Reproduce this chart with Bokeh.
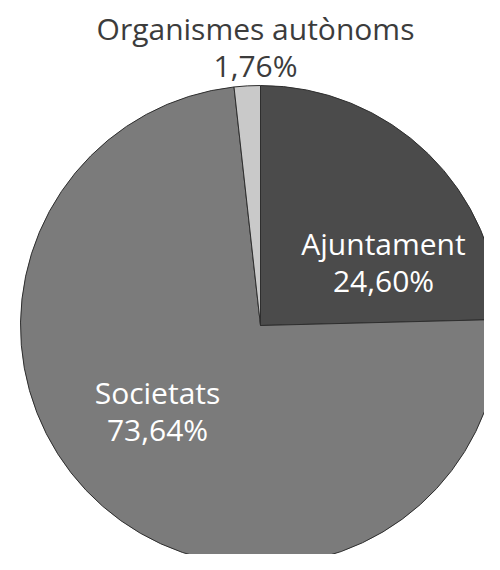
from bokeh.plotting import figure
from bokeh.models import Range1d
from bokeh.embed import file_html
from bokeh.resources import INLINE
from bokeh.core.properties import value
import numpy as np

# clockwise from 12 o'clock
categories = ["Ajuntament", "Societats", "Organismes autònoms"]
shares = [24.60, 73.64, 1.76]
pct_labels = ["24,60%", "73,64%", "1,76%"]
colors = ["#4b4b4b", "#7b7b7b", "#c9c9c9"]

# layout (figure pixel coordinates, y up)
W, H = 484, 554
cx, cy, R = 260, 229, 240
label_pos = {
    "Ajuntament": (383, 311, "white"),
    "Organismes autònoms": (255, 526, "#3c3c3c"),
    "Societats": (157, 162, "white"),
}

p = figure(width=W, height=H, output_backend="svg", toolbar_location=None,
           x_range=Range1d(0, W), y_range=Range1d(0, H), min_border=0)
p.axis.visible = False
p.grid.visible = False
p.outline_line_color = None
p.background_fill_color = "white"
p.border_fill_color = "white"

fr = np.array(shares) / 100.0
ends = np.pi / 2 - np.concatenate([[0], np.cumsum(fr)[:-1]]) * 2 * np.pi
starts = ends - fr * 2 * np.pi
for s, e, c in zip(starts, ends, colors):
    p.wedge(x=cx, y=cy, radius=R, start_angle=s, end_angle=e,
            fill_color=c, line_color="#2e2e2e", line_width=1)

for cat, pct in zip(categories, pct_labels):
    x, y, col = label_pos[cat]
    p.text(x=[x, x], y=[y, y - 37], text=[cat, pct],
           text_font=value("Open Sans"), text_font_size="30px",
           text_color=col, text_align="center", text_baseline="middle")

open("out.html", "w").write(file_html(p, INLINE))
